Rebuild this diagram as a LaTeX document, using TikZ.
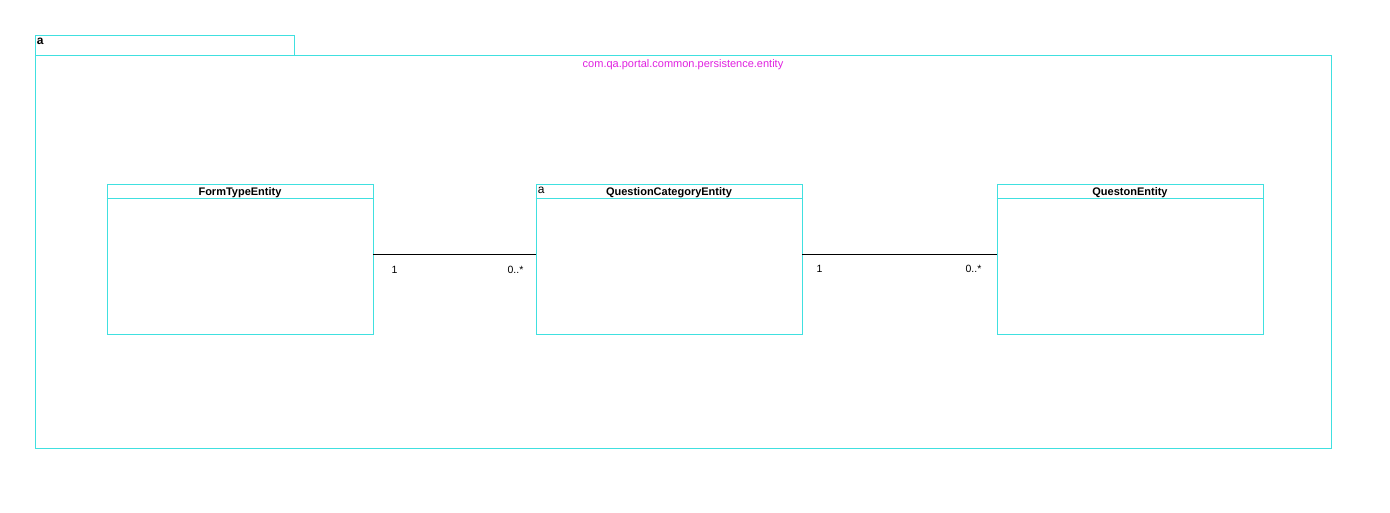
\documentclass[tikz,border=0pt]{standalone}
\usepackage{fontspec}
\setmainfont{Liberation Sans}
\usepackage{xcolor}
\usetikzlibrary{positioning,calc}

\definecolor{umlcyan}{RGB}{64,224,224}
\definecolor{umlmagenta}{RGB}{224,32,224}

\begin{document}
\begin{tikzpicture}[
    x=1pt, y=-1pt,
    font=\fontsize{11}{12}\selectfont,
    pkgtab/.style={
        rectangle,
        draw=umlcyan,
        line width=0.9pt,
        minimum width=259pt,
        minimum height=20pt,
        inner sep=0pt
    },
    pkgbody/.style={
        rectangle,
        draw=umlcyan,
        line width=0.9pt,
        minimum width=1296pt,
        minimum height=393pt,
        inner sep=0pt
    },
    classbox/.style={
        rectangle,
        draw=umlcyan,
        line width=0.9pt,
        minimum width=266pt,
        minimum height=150pt,
        inner sep=0pt
    },
    classname/.style={font=\fontsize{11}{12}\selectfont\bfseries, inner sep=0pt, anchor=base},
    mult/.style={inner sep=0pt, font=\fontsize{10.5}{12}\selectfont},
    line/.style={draw=black, line width=0.9pt}
]
    \useasboundingbox (0,0) rectangle (1390,512);

    % Package
    \node[pkgtab] (tab) at (164.5,45) {};
    \node[pkgbody] (pkg) at (683,251.5) {};
    \node[anchor=base west, inner sep=0pt, font=\fontsize{12}{12}\selectfont\bfseries] (tabname) at ([xshift=2pt,yshift=-10pt]tab.north west) {a};
    \node[text=umlmagenta, inner sep=0pt, anchor=base] (pkgname) at (683,67) {com.qa.portal.common.persistence.entity};

    % Classes
    \node[classbox] (formtype) at (240,259) {};
    \node[classbox] (category) at (669,259) {};
    \node[classbox] (question) at (1130,259) {};

    \foreach \cls/\txt in {formtype/FormTypeEntity, category/QuestionCategoryEntity, question/QuestonEntity} {
        \draw[umlcyan, line width=0.9pt] ([yshift=-15pt]\cls.north west) -- ([yshift=-15pt]\cls.north east);
        \node[classname] (\cls-name) at ([yshift=-11.5pt]\cls.north) {\txt};
    }
    \node[anchor=base west, inner sep=0pt, font=\fontsize{12}{12}\selectfont] (catmark) at ([xshift=2pt,yshift=-10pt]category.north west) {a};

    % Connections
    \draw[line] ([yshift=5pt]formtype.east) -- ([yshift=5pt]category.west);
    \draw[line] ([yshift=5pt]category.east) -- ([yshift=5pt]question.west);

    % Multiplicities
    \node[mult] (m1) at ([xshift=21pt,yshift=-11pt]formtype.east) {1};
    \node[mult, anchor=east] (m2) at ([xshift=-12pt,yshift=-11pt]category.west) {0..*};
    \node[mult] (m3) at ([xshift=17pt,yshift=-10pt]category.east) {1};
    \node[mult, anchor=east] (m4) at ([xshift=-15pt,yshift=-10pt]question.west) {0..*};
\end{tikzpicture}
\end{document}
